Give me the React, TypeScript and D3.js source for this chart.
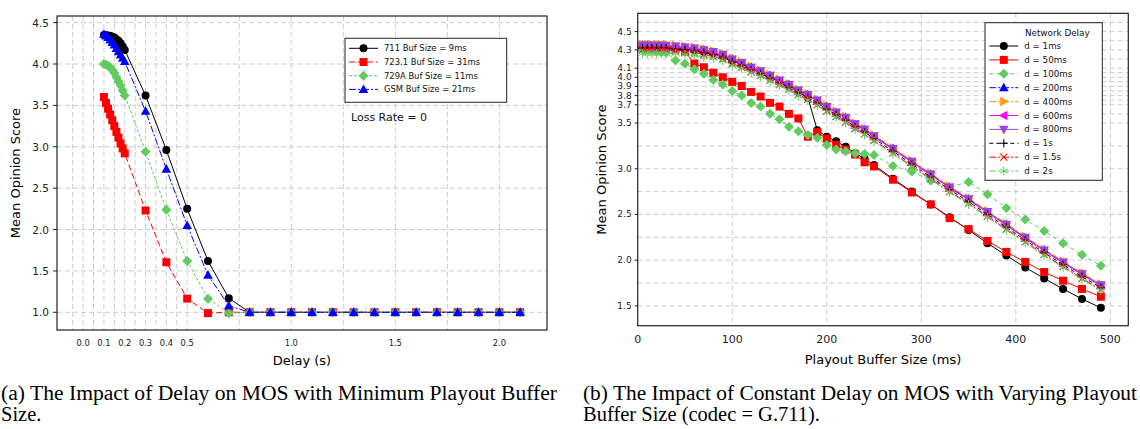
import React from 'react';
import * as d3 from 'd3';

// ---- (a) delay vs MOS, minimum playout buffer ----
const delaySec = [0.10, 0.11, 0.12, 0.13, 0.14, 0.15, 0.16, 0.17, 0.18, 0.19, 0.20,
  0.3, 0.4, 0.5, 0.6, 0.7, 0.8, 0.9, 1.0, 1.1, 1.2, 1.3, 1.4, 1.5, 1.6, 1.7, 1.8, 1.9, 2.0, 2.1];
const mos711 = [4.35, 4.35, 4.34, 4.34, 4.33, 4.32, 4.30, 4.28, 4.25, 4.21, 4.17,
  3.62, 2.96, 2.25, 1.62, 1.17, 1.0, 1.0, 1.0, 1.0, 1.0, 1.0, 1.0, 1.0, 1.0, 1.0, 1.0, 1.0, 1.0, 1.0];
const mos723 = [3.60, 3.53, 3.46, 3.39, 3.32, 3.25, 3.18, 3.11, 3.04, 2.98, 2.92,
  2.23, 1.605, 1.165, 0.99, 1.0, 1.0, 1.0, 1.0, 1.0, 1.0, 1.0, 1.0, 1.0, 1.0, 1.0, 1.0, 1.0, 1.0, 1.0];
const mos729 = [4.00, 3.99, 3.98, 3.96, 3.93, 3.89, 3.84, 3.79, 3.74, 3.68, 3.62,
  2.94, 2.24, 1.62, 1.165, 0.99, 1.0, 1.0, 1.0, 1.0, 1.0, 1.0, 1.0, 1.0, 1.0, 1.0, 1.0, 1.0, 1.0, 1.0];
const mosGsm = [4.36, 4.34, 4.32, 4.29, 4.26, 4.23, 4.19, 4.15, 4.11, 4.07, 4.03,
  3.43, 2.73, 2.05, 1.45, 1.08, 1.0, 1.0, 1.0, 1.0, 1.0, 1.0, 1.0, 1.0, 1.0, 1.0, 1.0, 1.0, 1.0, 1.0];

const leftXTicks = [0.0, 0.1, 0.2, 0.3, 0.4, 0.5, 1.0, 1.5, 2.0];
const leftXGrid = [-0.05, 0, 0.05, 0.1, 0.15, 0.2, 0.25, 0.3, 0.35, 0.4, 0.45, 0.5, 0.75, 1.0, 1.25, 1.5, 1.75, 2.0];
const leftYTicks = [1.0, 1.5, 2.0, 2.5, 3.0, 3.5, 4.0, 4.5];

// ---- (b) playout buffer vs MOS, constant network delay (G.711) ----
const bufMs = [5, 10, 15, 20, 25, 30, 40, 50, 60, 70, 80, 90, 100, 110, 120, 130, 140, 150, 160, 170,
  180, 190, 200, 210, 220, 230, 240, 250, 270, 290, 310, 330, 350, 370, 390, 410, 430, 450, 470, 490];
const d1ms = [4.33, 4.33, 4.33, 4.33, 4.33, 4.33, 4.32, 4.31, 4.30, 4.28, 4.26, 4.23, 4.18, 4.14, 4.09, 4.05, 4.00, 3.95, 3.90, 3.84,
  3.78, 3.42, 3.35, 3.30, 3.24, 3.17, 3.11, 3.04, 2.89, 2.75, 2.61, 2.47, 2.33, 2.185, 2.05, 1.92, 1.80, 1.685, 1.576, 1.478];
const d50ms = [4.33, 4.33, 4.33, 4.33, 4.33, 4.33, 4.31, 4.28, 4.15, 4.11, 4.05, 4.00, 3.95, 3.905, 3.84, 3.79, 3.72, 3.68, 3.60, 3.55,
  3.35, 3.40, 3.33, 3.26, 3.21, 3.155, 3.07, 3.025, 2.88, 2.74, 2.61, 2.46, 2.34, 2.21, 2.09, 1.98, 1.87, 1.775, 1.685, 1.60];
const d100ms = [4.30, 4.30, 4.30, 4.29, 4.28, 4.27, 4.185, 4.148, 4.087, 4.04, 3.97, 3.92, 3.85, 3.80, 3.72, 3.68, 3.60, 3.54, 3.46, 3.41,
  3.37, 3.34, 3.26, 3.21, 3.19, 3.17, 3.16, 3.15, 3.03, 2.97, 2.87, 2.80, 2.855, 2.72, 2.57, 2.445, 2.32, 2.185, 2.06, 1.94];
const d200ms = [4.35, 4.35, 4.34, 4.34, 4.34, 4.34, 4.33, 4.33, 4.31, 4.30, 4.27, 4.24, 4.20, 4.15, 4.11, 4.06, 4.02, 3.96, 3.92, 3.85,
  3.81, 3.74, 3.68, 3.61, 3.56, 3.48, 3.43, 3.35, 3.22, 3.07, 2.94, 2.79, 2.67, 2.52, 2.39, 2.24, 2.11, 1.97, 1.85, 1.72];
const d400ms = [4.36, 4.36, 4.36, 4.36, 4.36, 4.36, 4.35, 4.34, 4.33, 4.31, 4.29, 4.26, 4.21, 4.17, 4.12, 4.08, 4.03, 3.98, 3.93, 3.87,
  3.82, 3.76, 3.69, 3.63, 3.57, 3.50, 3.44, 3.37, 3.23, 3.09, 2.95, 2.81, 2.68, 2.54, 2.40, 2.26, 2.12, 1.99, 1.86, 1.74];
const d600ms = [4.34, 4.34, 4.34, 4.34, 4.34, 4.34, 4.33, 4.32, 4.31, 4.29, 4.27, 4.24, 4.19, 4.15, 4.10, 4.06, 4.01, 3.96, 3.91, 3.85,
  3.80, 3.74, 3.67, 3.61, 3.55, 3.48, 3.42, 3.35, 3.21, 3.07, 2.93, 2.79, 2.66, 2.52, 2.38, 2.24, 2.10, 1.97, 1.84, 1.72];
const d800ms = [4.35, 4.35, 4.35, 4.35, 4.35, 4.35, 4.34, 4.33, 4.32, 4.30, 4.28, 4.25, 4.20, 4.16, 4.11, 4.07, 4.02, 3.97, 3.92, 3.86,
  3.81, 3.75, 3.68, 3.62, 3.56, 3.49, 3.43, 3.36, 3.22, 3.08, 2.94, 2.80, 2.67, 2.53, 2.39, 2.25, 2.11, 1.98, 1.85, 1.73];
const d1s = [4.32, 4.32, 4.32, 4.32, 4.32, 4.32, 4.31, 4.30, 4.29, 4.27, 4.25, 4.22, 4.17, 4.13, 4.08, 4.04, 3.99, 3.94, 3.89, 3.83,
  3.78, 3.72, 3.65, 3.59, 3.53, 3.46, 3.40, 3.33, 3.19, 3.05, 2.91, 2.77, 2.64, 2.50, 2.36, 2.22, 2.08, 1.95, 1.82, 1.70];
const d1500ms = [4.30, 4.30, 4.30, 4.30, 4.30, 4.30, 4.29, 4.28, 4.27, 4.25, 4.23, 4.20, 4.15, 4.11, 4.06, 4.02, 3.97, 3.92, 3.87, 3.81,
  3.76, 3.70, 3.63, 3.57, 3.51, 3.44, 3.38, 3.31, 3.17, 3.03, 2.89, 2.75, 2.62, 2.48, 2.34, 2.20, 2.06, 1.93, 1.80, 1.68];
const d2s = [4.26, 4.26, 4.26, 4.26, 4.26, 4.26, 4.26, 4.25, 4.24, 4.22, 4.21, 4.18, 4.13, 4.10, 4.05, 4.01, 3.96, 3.91, 3.86, 3.80,
  3.75, 3.69, 3.62, 3.56, 3.50, 3.43, 3.37, 3.30, 3.16, 3.02, 2.88, 2.74, 2.61, 2.47, 2.33, 2.19, 2.05, 1.92, 1.79, 1.67];

const rightXTicks = [0, 100, 200, 300, 400, 500];
const rightYTicks = [1.5, 2.0, 2.5, 3.0, 3.5, 3.7, 3.8, 3.9, 4.0, 4.1, 4.3, 4.5];
const rightYGrid = [1.5, 1.75, 2.0, 2.25, 2.5, 2.75, 3.0, 3.25, 3.5, 3.6, 3.7, 3.75, 3.8, 3.85, 3.9, 3.95,
  4.0, 4.05, 4.1, 4.2, 4.3, 4.4, 4.5, 4.6];

const GREEN = '#5fcc5f';
const FONT = '"DejaVu Sans", sans-serif';
const GRID = '#cccccc';

const leftSeries = [
  { label: '711 Buf Size = 9ms', y: mos711, color: '#000', dash: null, shape: 'circle' },
  { label: '723.1 Buf Size = 31ms', y: mos723, color: '#ff0000', dash: '6,3', shape: 'square' },
  { label: '729A Buf Size = 11ms', y: mos729, color: GREEN, dash: '3,2', shape: 'diamond' },
  { label: 'GSM Buf Size = 21ms', y: mosGsm, color: '#0000ff', dash: '7,2,2,2', shape: 'triup' },
];

const rightSeries = [
  { label: 'd = 1ms', y: d1ms, color: '#000', dash: null, shape: 'circle' },
  { label: 'd = 50ms', y: d50ms, color: '#ff0000', dash: null, shape: 'square' },
  { label: 'd = 100ms', y: d100ms, color: GREEN, dash: '4,3', shape: 'diamond' },
  { label: 'd = 200ms', y: d200ms, color: '#0000ff', dash: '7,2,2,2', shape: 'triup' },
  { label: 'd = 400ms', y: d400ms, color: '#ff9900', dash: '7,2,2,2', shape: 'triright' },
  { label: 'd = 600ms', y: d600ms, color: '#ff00ff', dash: null, shape: 'trileft' },
  { label: 'd = 800ms', y: d800ms, color: '#9944dd', dash: null, shape: 'tridown' },
  { label: 'd = 1s', y: d1s, color: '#000', dash: '4,3', shape: 'plus' },
  { label: 'd = 1.5s', y: d1500ms, color: '#ff0000', dash: '7,2,2,2', shape: 'x' },
  { label: 'd = 2s', y: d2s, color: GREEN, dash: '7,2,2,2', shape: 'star' },
];

function marker(shape: string, cx: number, cy: number, color: string, key: any) {
  switch (shape) {
    case 'circle':
      return <circle key={key} cx={cx} cy={cy} r={4} fill={color} />;
    case 'square':
      return <rect key={key} x={cx - 4} y={cy - 4} width={8} height={8} fill={color} />;
    case 'diamond':
      return <path key={key} d={`M${cx},${cy - 5}L${cx + 5},${cy}L${cx},${cy + 5}L${cx - 5},${cy}Z`} fill={color} />;
    case 'triup':
      return <path key={key} d={`M${cx},${cy - 5}L${cx + 4.8},${cy + 3.6}L${cx - 4.8},${cy + 3.6}Z`} fill={color} />;
    case 'tridown':
      return <path key={key} d={`M${cx},${cy + 5}L${cx + 4.8},${cy - 3.6}L${cx - 4.8},${cy - 3.6}Z`} fill={color} />;
    case 'triright':
      return <path key={key} d={`M${cx + 5},${cy}L${cx - 3.6},${cy - 4.8}L${cx - 3.6},${cy + 4.8}Z`} fill={color} />;
    case 'trileft':
      return <path key={key} d={`M${cx - 5},${cy}L${cx + 3.6},${cy - 4.8}L${cx + 3.6},${cy + 4.8}Z`} fill={color} />;
    case 'plus':
      return <path key={key} d={`M${cx - 4},${cy}H${cx + 4}M${cx},${cy - 4}V${cy + 4}`} stroke={color} strokeWidth={1.1} fill="none" />;
    case 'x':
      return <path key={key} d={`M${cx - 3.5},${cy - 3.5}L${cx + 3.5},${cy + 3.5}M${cx - 3.5},${cy + 3.5}L${cx + 3.5},${cy - 3.5}`} stroke={color} strokeWidth={1.1} fill="none" />;
    default:
      return <path key={key} d={`M${cx},${cy - 4.5}V${cy + 4.5}M${cx - 4},${cy - 2.2}L${cx + 4},${cy + 2.2}M${cx - 4},${cy + 2.2}L${cx + 4},${cy - 2.2}`} stroke={color} strokeWidth={1} fill="none" />;
  }
}

const L = { left: 57, top: 16, right: 547, bottom: 330 };
const R = { left: 637.7, top: 13.3, right: 1128.3, bottom: 325.7 };

const App = () => {
  const xL = d3.scaleLinear().domain([-0.1255, 2.229]).range([L.left, L.right]);
  const yL = d3.scaleLinear().domain([0.786, 4.58]).range([L.bottom, L.top]);
  const xR = d3.scaleLinear().domain([0, 519]).range([R.left, R.right]);
  const yR = d3.scaleLinear().domain([1.283, 4.70]).range([R.bottom, R.top]);

  const fmt = d3.format('.1f');

  return (
    <svg width={1140} height={429} style={{ position: 'absolute', left: 0, top: 0, background: '#fff' }}
      fontFamily={FONT}>
      <rect width={1140} height={429} fill="#fff" />

      {/* ---------- left chart ---------- */}
      <g>
        {leftXGrid.map(v => (
          <line key={'lxg' + v} x1={xL(v)} x2={xL(v)} y1={L.top} y2={L.bottom} stroke={GRID} strokeDasharray="5,3" strokeWidth={1} />
        ))}
        {leftYTicks.map(v => (
          <line key={'lyg' + v} x1={L.left} x2={L.right} y1={yL(v)} y2={yL(v)} stroke={GRID} strokeDasharray="5,3" strokeWidth={1} />
        ))}
        {leftSeries.map(s => {
          const line = d3.line<number>().x((_, i) => xL(delaySec[i])).y(d => yL(d));
          return (
            <g key={s.label}>
              <path d={line(s.y) || ''} fill="none" stroke={s.color} strokeWidth={1} strokeDasharray={s.dash || undefined} />
              {s.y.map((v, i) => marker(s.shape, xL(delaySec[i]), yL(v), s.color, i))}
            </g>
          );
        })}
        <rect x={L.left} y={L.top} width={L.right - L.left} height={L.bottom - L.top} fill="none" stroke="#222" strokeWidth={1.2} />
        {leftYTicks.map(v => (
          <g key={'lyt' + v}>
            <line x1={L.left - 4} x2={L.left} y1={yL(v)} y2={yL(v)} stroke="#222" />
            <text x={L.left - 8} y={yL(v)} fontSize={10.5} textAnchor="end" dominantBaseline="central" fill="#222">{fmt(v)}</text>
          </g>
        ))}
        {leftXTicks.map(v => (
          <text key={'lxt' + v} x={xL(v)} y={343} fontSize={8.3} textAnchor="middle" dominantBaseline="central" fill="#222">{fmt(v)}</text>
        ))}
        <text x={(L.left + L.right) / 2} y={360} fontSize={13} textAnchor="middle" dominantBaseline="central">Delay (s)</text>
        <text transform={`translate(15,${(L.top + L.bottom) / 2}) rotate(-90)`} fontSize={13} textAnchor="middle" dominantBaseline="central">Mean Opinion Score</text>

        <rect x={345} y={38.3} width={161.7} height={64} fill="#fff" stroke="#222" strokeWidth={1} />
        {leftSeries.map((s, i) => {
          const cy = 48.3 + i * 13.7;
          return (
            <g key={'ll' + i}>
              <line x1={349} x2={378} y1={cy} y2={cy} stroke={s.color} strokeWidth={1} strokeDasharray={s.dash || undefined} />
              {marker(s.shape, 363.5, cy, s.color, 'm')}
              <text x={384} y={cy} fontSize={8.4} dominantBaseline="central" fill="#111">{s.label}</text>
            </g>
          );
        })}
        <text x={351} y={117} fontSize={11} dominantBaseline="central" fill="#111">Loss Rate = 0</text>
      </g>

      {/* ---------- right chart ---------- */}
      <g>
        {rightXTicks.slice(1).map(v => (
          <line key={'rxg' + v} x1={xR(v)} x2={xR(v)} y1={R.top} y2={R.bottom} stroke={GRID} strokeDasharray="5,3" strokeWidth={1} />
        ))}
        {rightYGrid.map(v => (
          <line key={'ryg' + v} x1={R.left} x2={R.right} y1={yR(v)} y2={yR(v)} stroke={GRID} strokeDasharray="5,3" strokeWidth={1} />
        ))}
        {rightSeries.map(s => {
          const line = d3.line<number>().x((_, i) => xR(bufMs[i])).y(d => yR(d));
          return (
            <g key={s.label}>
              <path d={line(s.y) || ''} fill="none" stroke={s.color} strokeWidth={1} strokeDasharray={s.dash || undefined} />
              {s.y.map((v, i) => marker(s.shape, xR(bufMs[i]), yR(v), s.color, i))}
            </g>
          );
        })}
        <rect x={R.left} y={R.top} width={R.right - R.left} height={R.bottom - R.top} fill="none" stroke="#222" strokeWidth={1.2} />
        {rightYTicks.map(v => (
          <g key={'ryt' + v}>
            <line x1={R.left - 3} x2={R.left} y1={yR(v)} y2={yR(v)} stroke="#222" />
            <text x={R.left - 6} y={yR(v)} fontSize={9} textAnchor="end" dominantBaseline="central" fill="#222">{fmt(v)}</text>
          </g>
        ))}
        {rightXTicks.map(v => (
          <text key={'rxt' + v} x={xR(v)} y={339.5} fontSize={11} textAnchor="middle" dominantBaseline="central" fill="#222">{v}</text>
        ))}
        <text x={(R.left + R.right) / 2} y={359} fontSize={13} textAnchor="middle" dominantBaseline="central">Playout Buffer Size (ms)</text>
        <text transform={`translate(601,${(R.top + R.bottom) / 2}) rotate(-90)`} fontSize={13} textAnchor="middle" dominantBaseline="central">Mean Opinion Score</text>

        <rect x={985} y={22.7} width={117.3} height={157.6} fill="#fff" stroke="#222" strokeWidth={1} />
        <text x={1057.3} y={32.7} fontSize={8.8} textAnchor="middle" dominantBaseline="central" fill="#111">Network Delay</text>
        {rightSeries.map((s, i) => {
          const cy = 46 + i * 13.9;
          return (
            <g key={'rl' + i}>
              <line x1={989.3} x2={1018.3} y1={cy} y2={cy} stroke={s.color} strokeWidth={1} strokeDasharray={s.dash || undefined} />
              {marker(s.shape, 1003.8, cy, s.color, 'm')}
              <text x={1024.3} y={cy} fontSize={8.7} dominantBaseline="central" fill="#111">{s.label}</text>
            </g>
          );
        })}
      </g>

      {/* ---------- captions ---------- */}
      <g fontFamily='"Liberation Serif", "Times New Roman", serif' fontSize={20.5} fill="#000">
        <text x={1} y={400} textLength={556} lengthAdjust="spacingAndGlyphs">(a) The Impact of Delay on MOS with Minimum Playout Buffer</text>
        <text x={1} y={421}>Size.</text>
        <text x={583} y={400} textLength={554} lengthAdjust="spacingAndGlyphs">(b) The Impact of Constant Delay on MOS with Varying Playout</text>
        <text x={583} y={421}>Buffer Size (codec = G.711).</text>
      </g>
    </svg>
  );
};

export default App;
